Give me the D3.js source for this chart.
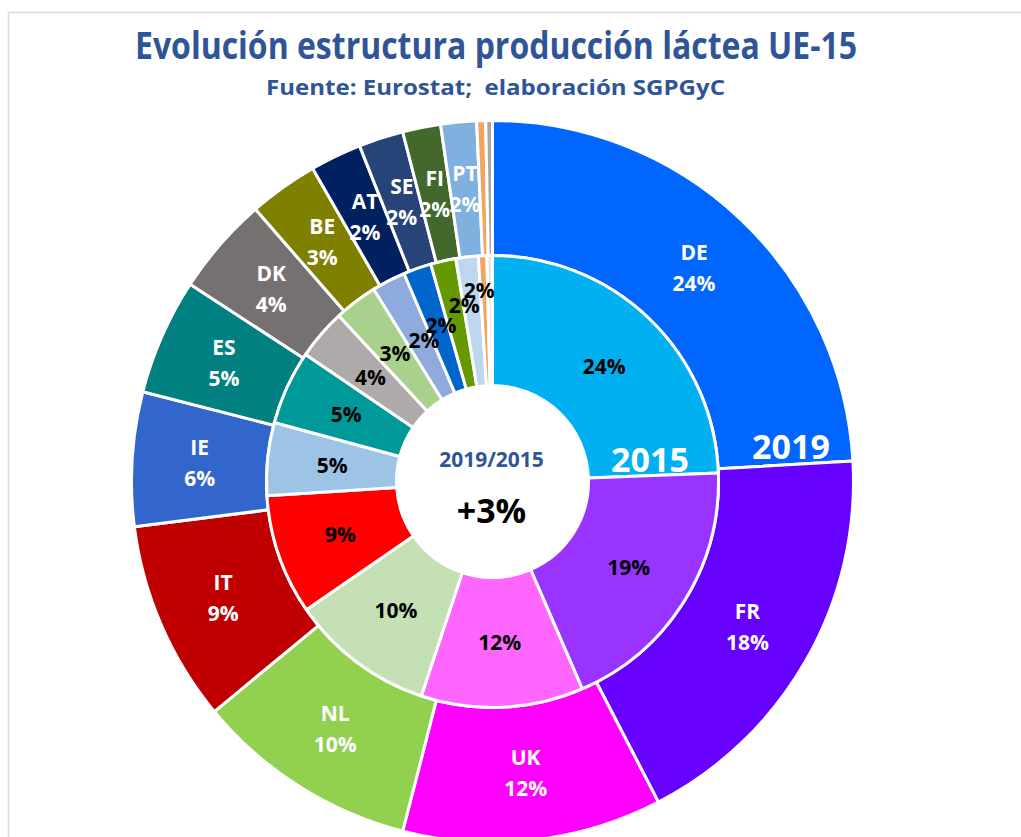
<!DOCTYPE html>
<html>
<head>
<meta charset="utf-8">
<script src="https://cdn.jsdelivr.net/npm/d3@7"></script>
<style>
    body { margin: 0; background: #fff; }
    text { font-family: "Open Sans", "Noto Sans", sans-serif; font-weight: bold; }
</style>
</head>
<body>
<script>
// countries, same order in both rings (clockwise from 12 o'clock)
const countries = ["DE", "FR", "UK", "NL", "IT", "IE", "ES", "DK", "BE", "AT", "SE", "FI", "PT", "LU", "GR"];

// share of EU-15 milk production, %
const share2019 = [24.1, 18.3, 11.6, 10.0, 9.0, 6.0, 5.2, 4.4, 3.1, 2.3, 2.0, 1.7, 1.6, 0.4, 0.3];
const share2015 = [24.4, 19.1, 11.6, 10.3, 8.6, 5.2, 5.3, 3.6, 3.1, 2.4, 2.0, 1.8, 1.6, 0.6, 0.4];

const colors2019 = ["#0066FF", "#6600FF", "#FF00FF", "#92D050", "#C00000", "#3366CC", "#008080", "#767171",
                    "#808000", "#002060", "#264478", "#43682B", "#7EB0E0", "#F4A460", "#A6A6A6"];
const colors2015 = ["#00B0F0", "#9933FF", "#FF66FF", "#C5E0B4", "#FF0000", "#9DC3E6", "#009999", "#AEAAAA",
                    "#A9D18E", "#8FAADC", "#0066CC", "#669900", "#BDD7EE", "#F4A460", "#E7E6E6"];

const labelledCount = 13; // LU and GR have no labels
const growth = "+3%";

const width = 1021, height = 837;
const cx = 492.5, cy = 481.5;
const rOuter = 361, rMid = 226, rHole = 96;

// the thin 2015 slices get their labels pushed outwards, like Excel does
// index -> [angle offset (deg), radius]
const innerNudge = { 9: [1.5, 157], 10: [1.2, 165], 11: [3.5, 179], 12: [2.5, 192] };

const svg = d3.select("body")
    .append("svg")
    .attr("width", width)
    .attr("height", height);

// chart area frame (only top and left edges visible)
svg.append("rect")
    .attr("x", 8.5)
    .attr("y", 12.5)
    .attr("width", 1100)
    .attr("height", 1000)
    .attr("fill", "#fff")
    .attr("stroke", "#D9D9D9")
    .attr("stroke-width", 1.5);

svg.append("text")
    .attr("x", 135)
    .attr("y", 59)
    .attr("font-size", 38)
    .attr("fill", "#2F5597")
    .attr("textLength", 722)
    .attr("lengthAdjust", "spacingAndGlyphs")
    .text("Evolución estructura producción láctea UE-15");

svg.append("text")
    .attr("x", 266)
    .attr("y", 95)
    .attr("font-size", 22)
    .attr("fill", "#2F5597")
    .attr("textLength", 459)
    .attr("lengthAdjust", "spacingAndGlyphs")
    .style("white-space", "pre")
    .text("Fuente: Eurostat;  elaboración SGPGyC");

const pie = d3.pie().sort(null).value(d => d);
const pct = d3.format(".0%");

function drawRing(values, colors, r0, r1, cls) {
    const arcs = pie(values);
    const arc = d3.arc().innerRadius(r0).outerRadius(r1);
    const g = svg.append("g")
        .attr("class", cls)
        .attr("transform", `translate(${cx},${cy})`);
    g.selectAll("path")
        .data(arcs)
        .enter()
        .append("path")
        .attr("d", arc)
        .attr("fill", (_, i) => colors[i])
        .attr("stroke", "#fff")
        .attr("stroke-width", 3)
        .attr("stroke-linejoin", "round");
    return { g, arcs, arc };
}

const outer = drawRing(share2019, colors2019, rMid, rOuter, "ring2019");
const inner = drawRing(share2015, colors2015, rHole, rMid, "ring2015");

const total2019 = d3.sum(share2019);
const total2015 = d3.sum(share2015);

// outer labels: country + share, white
outer.g.selectAll(".lbl")
    .data(outer.arcs.slice(0, labelledCount))
    .enter()
    .append("text")
    .attr("class", "lbl")
    .attr("text-anchor", "middle")
    .attr("font-size", 21)
    .attr("fill", "#fff")
    .each(function(d, i) {
        const [x, y] = outer.arc.centroid(d);
        const t = d3.select(this);
        t.append("tspan").attr("x", x).attr("y", y - 8).text(countries[i]);
        t.append("tspan").attr("x", x).attr("y", y + 23).text(pct(d.value / total2019));
    });

function innerPos(d, i) {
    if (!innerNudge[i]) return inner.arc.centroid(d);
    const [da, r] = innerNudge[i];
    const a = (d.startAngle + d.endAngle) / 2 + da * Math.PI / 180;
    return [r * Math.sin(a), -r * Math.cos(a)];
}

// inner labels: share only, black
inner.g.selectAll(".lbl")
    .data(inner.arcs.slice(0, labelledCount))
    .enter()
    .append("text")
    .attr("class", "lbl")
    .attr("text-anchor", "middle")
    .attr("dominant-baseline", "central")
    .attr("font-size", 21)
    .attr("fill", "#000")
    .attr("x", (d, i) => innerPos(d, i)[0])
    .attr("y", (d, i) => innerPos(d, i)[1])
    .text(d => pct(d.value / total2015));

// ring year tags
svg.append("text")
    .attr("x", 650)
    .attr("y", 472)
    .attr("text-anchor", "middle")
    .attr("font-size", 34)
    .attr("fill", "#fff")
    .text("2015");

svg.append("text")
    .attr("x", 791)
    .attr("y", 459)
    .attr("text-anchor", "middle")
    .attr("font-size", 34)
    .attr("fill", "#fff")
    .text("2019");

// centre of the donut
svg.append("text")
    .attr("x", cx - 1)
    .attr("y", 467)
    .attr("text-anchor", "middle")
    .attr("font-size", 21)
    .attr("fill", "#2F5597")
    .text("2019/2015");

svg.append("text")
    .attr("x", cx - 1)
    .attr("y", 523)
    .attr("text-anchor", "middle")
    .attr("font-size", 34)
    .attr("fill", "#000")
    .text(growth);
</script>
</body>
</html>
